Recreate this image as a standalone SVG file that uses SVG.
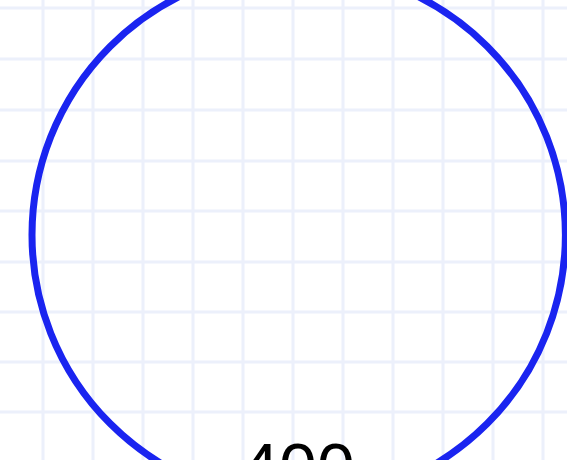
<svg xmlns="http://www.w3.org/2000/svg" width="567" height="460" viewBox="0 0 567 460">
<style>
.grid line{stroke:#ecf0fb;stroke-width:3}
.node circle{fill:none;stroke:#1a24f0;stroke-width:7}
.label{font-family:"Liberation Sans",Arial,sans-serif;font-size:68px;fill:#000;text-anchor:middle}
</style>
<rect width="567" height="460" fill="#ffffff"/>
<g class="grid">
<line x1="43" y1="0" x2="43" y2="460"/>
<line x1="93" y1="0" x2="93" y2="460"/>
<line x1="143" y1="0" x2="143" y2="460"/>
<line x1="193" y1="0" x2="193" y2="460"/>
<line x1="243" y1="0" x2="243" y2="460"/>
<line x1="293" y1="0" x2="293" y2="460"/>
<line x1="343" y1="0" x2="343" y2="460"/>
<line x1="393" y1="0" x2="393" y2="460"/>
<line x1="443" y1="0" x2="443" y2="460"/>
<line x1="493" y1="0" x2="493" y2="460"/>
<line x1="543" y1="0" x2="543" y2="460"/>
<line x1="0" y1="8" x2="567" y2="8"/>
<line x1="0" y1="59" x2="567" y2="59"/>
<line x1="0" y1="110" x2="567" y2="110"/>
<line x1="0" y1="161" x2="567" y2="161"/>
<line x1="0" y1="211" x2="567" y2="211"/>
<line x1="0" y1="262" x2="567" y2="262"/>
<line x1="0" y1="312" x2="567" y2="312"/>
<line x1="0" y1="362" x2="567" y2="362"/>
<line x1="0" y1="412" x2="567" y2="412"/>
</g>
<g id="connectors"></g>
<g id="node-circle" class="node">
<circle cx="298.7" cy="235" r="266.7"/>
</g>
<g id="node-label">
<text class="label" x="298" y="491">400</text>
</g>
</svg>
